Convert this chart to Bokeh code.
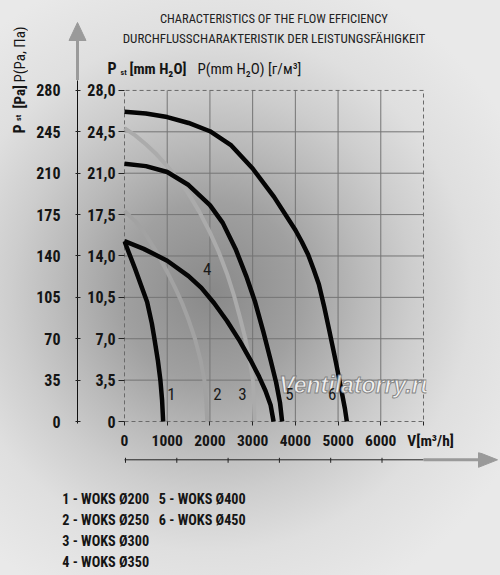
import math
from bokeh.plotting import figure
from bokeh.layouts import row, column
from bokeh.models import Range1d, LinearAxis, FixedTicker, Label
from bokeh.core.properties import value
from bokeh.embed import file_html
from bokeh.resources import INLINE

# ---------------- data ----------------
mm_ticks = [0, 3.5, 7, 10.5, 14, 17.5, 21, 24.5, 28]
mm_labels = ["0", "3,5", "7,0", "10,5", "14,0", "17,5", "21,0", "24,5", "28,0"]
pa_ticks = [0, 35, 70, 105, 140, 175, 210, 245, 280]
flow_ticks = [0, 1000, 2000, 3000, 4000, 5000, 6000]
flow_max = 7000
flow_unit = "V[m³/h]"

c1_x = [0, 100, 250, 400, 530, 640, 700, 780, 840, 880, 905]
c1_y = [15.25, 14.3, 12.9, 11.4, 10.1, 8.3, 7.0, 5.2, 3.5, 1.8, 0]

c2_x = [0, 250, 500, 750, 1000, 1200, 1350, 1500, 1650, 1780, 1870, 1915, 1935]
c2_y = [17.8, 16.95, 15.8, 14.35, 12.65, 11.2, 10.0, 8.6, 7.0, 5.2, 3.5, 1.7, 0]

c3_x = [0, 250, 500, 750, 1000, 1250, 1500, 1750, 2000, 2200, 2400, 2560, 2700, 2830, 2930, 3005, 3030, 3045]
c3_y = [24.8, 24.2, 23.45, 22.6, 21.6, 20.5, 19.25, 17.75, 16.0, 14.4, 12.5, 10.7, 8.85, 7.0, 5.2, 3.5, 1.75, 0]

c4_x = [0, 450, 1000, 1500, 1800, 2100, 2400, 2700, 2950, 3150, 3300, 3420, 3490]
c4_y = [15.25, 14.6, 13.6, 12.3, 11.3, 10.0, 8.5, 6.8, 5.2, 3.8, 2.6, 1.4, 0]

c5_x = [0, 500, 1000, 1500, 2000, 2300, 2600, 2850, 3050, 3250, 3420, 3550, 3640, 3690]
c5_y = [21.8, 21.6, 21.1, 20.0, 18.3, 16.8, 14.6, 12.3, 10.2, 7.6, 5.2, 3.3, 1.6, 0]

c6_x = [0, 500, 1000, 1500, 2000, 2500, 3000, 3500, 4000, 4150, 4300, 4425, 4550, 4675, 4800, 4950, 5080, 5160, 5205]
c6_y = [26.2, 26.05, 25.75, 25.25, 24.55, 23.35, 21.4, 19.0, 16.2, 15.2, 14.1, 12.9, 11.6, 9.7, 7.6, 5.0, 2.6, 1.1, 0]

models = ["WOKS Ø200", "WOKS Ø250", "WOKS Ø300", "WOKS Ø350", "WOKS Ø400", "WOKS Ø450"]
curve_numbers = ["1", "2", "3", "4", "5", "6"]

# ---------------- page geometry (px) ----------------
W, H = 500, 575
LW = 28                      # left strip width
TOP_H = 80                   # top strip height
M_BOT = 452                  # bottom of main figure
GX0, GX1, GY0, GY1 = 124, 423, 90, 423   # chart box: x 0..7000, y 0..28
FL, FR, FT, FB = 122, 426, 80, 425       # main frame (slightly larger than box)
kx = flow_max / (GX1 - GX0)
ky = mm_ticks[-1] / (GY1 - GY0)

COND = "'Roboto Condensed', 'DejaVu Sans Condensed', 'Liberation Sans Narrow', sans-serif"
INK = "#151515"
GRAY = "#9a9a9a"


def bare(w, h, x0, x1, y0, y1):
    f = figure(width=w, height=h, x_range=Range1d(x0, x1), y_range=Range1d(y1, y0),
               output_backend="svg", toolbar_location=None, min_border=0, frame_align=False,
               x_axis_location=None, y_axis_location=None,
               background_fill_color=None, border_fill_color=None, outline_line_color=None)
    f.grid.visible = False
    return f


def txt(f, x, y, s, size, style="normal", align="left", baseline="alphabetic",
        angle=0.0, color=INK, font=COND):
    f.text(x=[x], y=[y], text=[s], text_font=value(font), text_font_size=f"{size}px",
           text_font_style=style, text_align=align, text_baseline=baseline,
           angle=angle, text_color=color)


# ---------------- main chart ----------------
MW = W - LW
pM = figure(width=MW, height=M_BOT - TOP_H, frame_align=False,
            x_range=Range1d((FL - GX0) * kx, (FR - GX0) * kx),
            y_range=Range1d((GY1 - FB) * ky, (GY1 - FT) * ky),
            output_backend="svg", toolbar_location=None,
            x_axis_location=None, y_axis_location=None,
            min_border_left=FL - LW, min_border_right=W - FR,
            min_border_top=FT - TOP_H, min_border_bottom=M_BOT - FB,
            background_fill_color=None, border_fill_color=None, outline_line_color=None)
pM.grid.visible = False
pa_scale = pa_ticks[-1] / mm_ticks[-1]
pM.extra_y_ranges = {"pa": Range1d(pM.y_range.start * pa_scale, pM.y_range.end * pa_scale)}

# grid lines and dashed box
pM.segment(x0=flow_ticks[1:], y0=[mm_ticks[0]] * 6, x1=flow_ticks[1:], y1=[mm_ticks[-1]] * 6,
           line_color="#747474", line_width=1)
pM.segment(x0=[0] * 7, y0=mm_ticks[1:-1], x1=[flow_max] * 7, y1=mm_ticks[1:-1],
           line_color="#747474", line_width=1)
pM.line(x=[0, flow_max, flow_max, 0, 0], y=[0, 0, mm_ticks[-1], mm_ticks[-1], 0],
        line_color="#6a6a6a", line_width=1, line_dash="4 3")


def key(t):
    return int(t) if float(t).is_integer() else t


tick_font = dict(major_label_text_font=COND, major_label_text_font_style="bold",
                 major_label_text_color=INK)

axA = LinearAxis(ticker=FixedTicker(ticks=mm_ticks),
                 major_label_overrides={key(t): s for t, s in zip(mm_ticks, mm_labels)},
                 major_tick_out=4, major_tick_in=2, minor_tick_out=0, minor_tick_in=0,
                 major_tick_line_color="#222222", axis_line_color=None,
                 major_label_standoff=3, major_label_text_font_size="16px",
                 axis_label=" ", axis_label_standoff=0, axis_label_text_font_size="3px",
                 **tick_font)
axB = LinearAxis(y_range_name="pa", ticker=FixedTicker(ticks=pa_ticks),
                 major_tick_out=2, major_tick_in=3, minor_tick_out=0, minor_tick_in=0,
                 major_tick_line_color="#222222", axis_line_color="#111111",
                 major_label_standoff=15, major_label_text_font_size="16px", **tick_font)
pM.add_layout(axA, "left")
pM.add_layout(axB, "left")

nb = "\u00a0" * 4
axC = LinearAxis(ticker=FixedTicker(ticks=flow_ticks + [flow_max]),
                 major_label_overrides={flow_max: nb + flow_unit},
                 major_tick_out=2, major_tick_in=2, minor_tick_out=0, minor_tick_in=0,
                 major_tick_line_color="#222222", axis_line_color=None,
                 major_label_standoff=6, major_label_text_font_size="15.5px", **tick_font)
pM.add_layout(axC, "below")

# curves
pM.line(c2_x, c2_y, line_color="#a2a2a2", line_width=4, line_join="round")
pM.line(c3_x, c3_y, line_color="#ababab", line_width=4, line_join="round")
for cx, cy in [(c1_x, c1_y), (c4_x, c4_y), (c5_x, c5_y), (c6_x, c6_y)]:
    pM.line(cx, cy, line_color="#050505", line_width=4.5, line_join="round")


def mlab(px, py, text, size, style="normal", align="center", baseline="alphabetic",
         color="#1a1a1a", font=COND, **kw):
    pM.add_layout(Label(x=(px - GX0) * kx, y=(GY1 - py) * ky, text=text,
                        text_font_size=f"{size}px", text_font_style=style, text_align=align,
                        text_baseline=baseline, text_color=color, text_font=font, **kw))


# watermark first, so that the curve numbers sit on top of it
mlab(356.5, 386, "Ventilatorry.ru", 23, style="bold italic", baseline="middle",
     color="#f6f6f6", font="Liberation Sans", text_alpha=0.9, text_outline_color="#7c7c7c")

num_pos = [(171, 395.7), (217, 395.7), (242, 395.7), (206.7, 270), (289, 395.7), (331.7, 395.7)]
for n, (nx, ny) in zip(curve_numbers, num_pos):
    mlab(nx, ny, n, 17)

# ---------------- top strip ----------------
pT = bare(MW, TOP_H, LW, W, 0, TOP_H)
txt(pT, 273.5, 18.3, "CHARACTERISTICS OF THE FLOW EFFICIENCY", 12.5, align="center", color="#222222")
txt(pT, 273.5, 38.3, "DURCHFLUSSCHARAKTERISTIK DER LEISTUNGSFÄHIGKEIT", 13, align="center", color="#222222")
txt(pT, 107, 68.3, "P", 16, style="bold")
txt(pT, 120, 71.5, "st", 8, style="bold")
txt(pT, 129, 68.3, "[mm H₂O]", 15, style="bold")
txt(pT, 197, 68.3, "P(mm H₂O) [г/м³]", 15)
pT.segment(x0=[77], y0=[39], x1=[77], y1=[TOP_H], line_color=GRAY, line_width=3)
pT.patch(x=[68.5, 77, 85.5], y=[40, 22, 40], fill_color=GRAY, line_color=GRAY)

# ---------------- left strip ----------------
pL = bare(LW, H, 0, LW, 0, H)
A = math.pi / 2
BX = 19
txt(pL, BX, 133, "P", 16, style="bold", angle=A)
txt(pL, BX - 1, 120.5, "st", 8, style="bold", angle=A)
txt(pL, BX, 108, "[Pa]", 15, style="bold", angle=A)
txt(pL, BX, 82, "P(Pa, Па)", 15, angle=A)

# ---------------- bottom strip ----------------
pB = bare(MW, H - M_BOT, LW, W, M_BOT, H)
AY = 459.3
pB.segment(x0=[GX0], y0=[AY], x1=[GX1], y1=[AY], line_color="#222222", line_width=1)
deco_x = [125 + 51.3 * i for i in range(6)]
pB.segment(x0=deco_x, y0=[AY - 2] * 6, x1=deco_x, y1=[AY + 3] * 6, line_color="#222222", line_width=1)
pB.segment(x0=[GX1], y0=[AY], x1=[479], y1=[AY], line_color=GRAY, line_width=3)
pB.patch(x=[478, 497, 478], y=[AY - 7.5, AY, AY + 7.5], fill_color=GRAY, line_color=GRAY)

leg_pos = [(61.7, 498.3), (61.7, 519.3), (61.7, 540), (61.7, 561), (158.3, 498.3), (158.3, 519.3)]
for n, m, (lx, ly) in zip(curve_numbers, models, leg_pos):
    txt(pB, lx, ly, f"{n} - {m}", 14.2, style="bold")

layout = row(pL, column(pT, pM, pB),
             styles={"background": "radial-gradient(circle at 212px 292px, #898989 0px, #a0a0a0 90px, "
                                   "#bababa 150px, #cdcdcd 200px, #dfdfdf 260px, #e9e9e9 340px)"})

open("out.html", "w").write(file_html(layout, INLINE))
